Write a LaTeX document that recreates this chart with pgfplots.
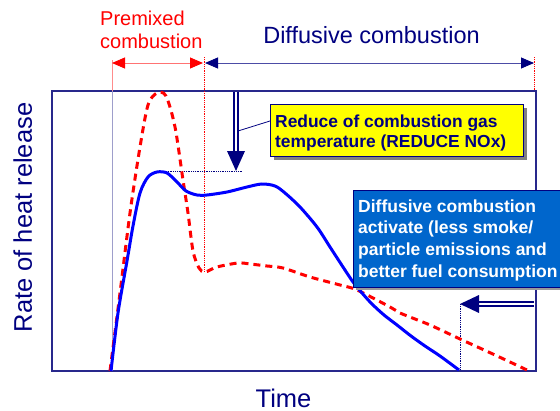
\documentclass[border=0pt]{standalone}
\usepackage{pgfplots}
\pgfplotsset{compat=1.18}
\usepackage{fontspec}
\setmainfont{Liberation Sans}
\usetikzlibrary{arrows.meta}
\definecolor{navyc}{RGB}{0,0,128}
\definecolor{boxline}{RGB}{40,40,140}
\definecolor{cblue}{RGB}{0,102,204}
\definecolor{cyel}{RGB}{255,255,0}
\begin{document}
\begin{tikzpicture}
\begin{axis}[scale only axis, width=484bp, height=280bp,
  xmin=52, xmax=536, ymin=40, ymax=320, ticks=none, clip=false,
  axis line style={boxline, line width=1.4bp}]
\coordinate (bl) at (axis cs:0,0);
\coordinate (tr) at (axis cs:560,411);
% guide lines
\draw[red!45, line width=0.8bp] (axis cs:112,351) -- (axis cs:112,320);
\draw[boxline!45, line width=0.8bp] (axis cs:112,320) -- (axis cs:112,40);
\draw[red, densely dotted, line width=0.8bp] (axis cs:204,354) -- (axis cs:204,139);
\draw[red, densely dotted, line width=0.8bp] (axis cs:534,354) -- (axis cs:534,320);
\draw[navyc, densely dotted, line width=0.8bp] (axis cs:157,240) -- (axis cs:242,240);
\draw[navyc, densely dotted, line width=0.8bp] (axis cs:460,107) -- (axis cs:460,41);
% curves
\addplot[red, line width=3bp, dash pattern=on 7bp off 5bp, smooth, tension=0.5] coordinates {
(110,40) (120,118) (130,198) (140,264) (148,306) (157,318) (166,315) (175,284)
(183,231) (188,198) (193,160) (199,143) (205,139) (217,144) (238,148) (250,147)
(267,145) (283,143) (310,134) (340,126) (357,121) (390,104) (400,98) (430,86)
(460,72) (495,56) (527,41)};
\addplot[blue, line width=3bp, smooth, tension=0.5] coordinates {
(111,40) (118,98) (127,150) (133,185) (140,218) (148,234) (157,239) (167,238)
(177,229) (186,220) (197,216) (207,216) (227,219) (247,224) (262,227) (275,225)
(285,218) (300,204) (317,184) (330,164) (343,144) (353,129) (362,118) (372,107)
(384,96) (397,86) (411,75) (425,65) (440,55) (459,41)};
% top arrows
\draw[red!55, line width=0.9bp, {Triangle[length=13bp,width=11bp,color=red]}-{Triangle[length=13bp,width=11bp,color=red]}] (axis cs:112,348) -- (axis cs:203,348);
\draw[navyc!70, line width=0.9bp, {Triangle[length=13bp,width=11bp,color=navyc]}-{Triangle[length=13bp,width=11bp,color=navyc]}] (axis cs:205,348) -- (axis cs:534,348);
% down arrow
\draw[navyc, line width=1.3bp, double=white, double distance=2.5bp] (axis cs:236,319) -- (axis cs:236,258);
\fill[navyc] (axis cs:227,260) -- (axis cs:245,260) -- (axis cs:236,240) -- cycle;
\draw[navyc, line width=0.8bp] (axis cs:270,290) -- (axis cs:238,280);
% left arrow
\draw[navyc, line width=1.3bp, double=white, double distance=2.5bp] (axis cs:534,107) -- (axis cs:476,107);
\fill[navyc] (axis cs:479,116) -- (axis cs:479,98) -- (axis cs:460,107) -- cycle;
% yellow box
\fill[gray] (axis cs:274,303) rectangle (axis cs:527,251);
\filldraw[fill=cyel, draw=navyc, line width=1bp] (axis cs:270,307) rectangle (axis cs:523,255);
\node[anchor=base west, inner sep=0, text=navyc, font=\fontsize{17.4bp}{20bp}\selectfont\bfseries] at (axis cs:275,284) {Reduce of combustion gas};
\node[anchor=base west, inner sep=0, text=navyc, font=\fontsize{17.4bp}{20bp}\selectfont\bfseries] at (axis cs:275,264) {temperature (REDUCE NOx)};
% blue box
\fill[gray!80] (axis cs:356,218) rectangle (axis cs:575,121);
\filldraw[fill=cblue, draw=navyc, line width=0.8bp] (axis cs:353,221) rectangle (axis cs:575,124);
\node[anchor=base west, inner sep=0, text=white, font=\fontsize{17.5bp}{20bp}\selectfont\bfseries] at (axis cs:358,199) {Diffusive combustion};
\node[anchor=base west, inner sep=0, text=white, font=\fontsize{17.5bp}{20bp}\selectfont\bfseries] at (axis cs:358,178) {activate (less smoke/};
\node[anchor=base west, inner sep=0, text=white, font=\fontsize{17.5bp}{20bp}\selectfont\bfseries] at (axis cs:358,156) {particle emissions and};
\node[anchor=base west, inner sep=0, text=white, font=\fontsize{17.5bp}{20bp}\selectfont\bfseries] at (axis cs:358,134) {better fuel consumption};
% titles
\node[anchor=base west, inner sep=0, text=red, font=\fontsize{20bp}{23bp}\selectfont] at (axis cs:100,386) {Premixed};
\node[anchor=base west, inner sep=0, text=red, font=\fontsize{20bp}{23bp}\selectfont] at (axis cs:100,363) {combustion};
\node[anchor=base, inner sep=0, text=navyc, font=\fontsize{23.5bp}{27bp}\selectfont] at (axis cs:371.5,368) {Diffusive combustion};
\node[anchor=base, inner sep=0, text=navyc, font=\fontsize{25.5bp}{30bp}\selectfont] at (axis cs:283.5,4) {Time};
\node[anchor=base, rotate=90, inner sep=0, text=navyc, font=\fontsize{25.5bp}{30bp}\selectfont] at (axis cs:32,193.5) {Rate of heat release};
\end{axis}
\pgfresetboundingbox
\path[use as bounding box] (bl) rectangle (tr);
\end{tikzpicture}
\end{document}
